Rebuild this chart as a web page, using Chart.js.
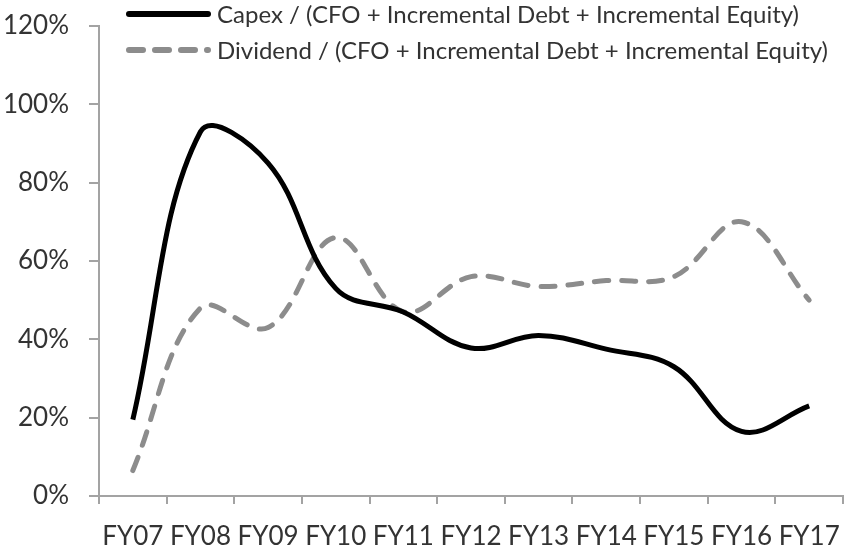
<!DOCTYPE html>
<html>
<head>
<meta charset="utf-8">
<script src="https://cdn.jsdelivr.net/npm/chart.js@4/dist/chart.umd.min.js"></script>
<style>
  body { margin: 0; background: #fff; }
  canvas { display: block; }
</style>
</head>
<body>
<canvas id="grafico" width="845" height="550"></canvas>
<script>
// dados (em %)
const anos = ['FY07', 'FY08', 'FY09', 'FY10', 'FY11', 'FY12', 'FY13', 'FY14', 'FY15', 'FY16', 'FY17'];
const capex = [19.5, 93, 85, 53, 47, 37.8, 41, 37.5, 33, 16.5, 23];
const dividendo = [6.5, 48, 43, 66, 47, 56, 53.5, 55, 56, 70, 50];
const nomeCapex = 'Capex / (CFO + Incremental Debt + Incremental Equity)';
const nomeDividendo = 'Dividend / (CFO + Incremental Debt + Incremental Equity)';

const FONTE = 'Lato';
const COR_TEXTO = '#333333';
const COR_EIXO = '#a3a3a3';

// legenda desenhada a mao, alinhada a esquerda como no Excel
const legendaExcel = {
    id: 'legendaExcel',
    afterDraw(chart) {
        const ctx = chart.ctx;
        const linhas = [14, 50];
        chart.data.datasets.forEach((ds, i) => {
            const y = linhas[i];
            ctx.save();
            ctx.strokeStyle = ds.borderColor;
            ctx.lineWidth = 6;
            ctx.lineCap = 'round';
            ctx.setLineDash(ds.borderDash ? [14, 12] : []);
            ctx.beginPath();
            ctx.moveTo(129, y);
            ctx.lineTo(208, y);
            ctx.stroke();
            ctx.setLineDash([]);
            ctx.fillStyle = COR_TEXTO;
            ctx.font = '24px ' + FONTE;
            ctx.textBaseline = 'middle';
            ctx.fillText(ds.label, 217, y + 1);
            ctx.restore();
        });
    }
};

new Chart(document.getElementById('grafico').getContext('2d'), {
    type: 'line',
    data: {
        labels: anos,
        datasets: [
            {
                label: nomeCapex,
                data: capex,
                borderColor: '#000000',
                borderWidth: 5,
                tension: 0.38,
                pointRadius: 0,
                fill: false
            },
            {
                label: nomeDividendo,
                data: dividendo,
                borderColor: '#8c8c8c',
                borderWidth: 5,
                borderDash: [14, 13],
                borderCapStyle: 'round',
                tension: 0.38,
                pointRadius: 0,
                fill: false
            }
        ]
    },
    options: {
        responsive: false,
        animation: false,
        layout: { padding: { top: 26, right: 2, left: 0, bottom: 0 } },
        plugins: {
            legend: { display: false },
            tooltip: { enabled: false }
        },
        scales: {
            x: {
                offset: true,
                grid: { display: true, offset: true, drawOnChartArea: false, drawTicks: true, tickLength: 8, color: COR_EIXO, lineWidth: 2 },
                border: { display: true, color: COR_EIXO, width: 2 },
                ticks: { color: COR_TEXTO, font: { family: FONTE, size: 26 }, padding: 17, maxRotation: 0, autoSkip: false },
                afterFit: (s) => { s.height = 54; s.paddingLeft = 0; s.paddingRight = 0; }
            },
            y: {
                min: 0,
                max: 120,
                ticks: { stepSize: 20, color: COR_TEXTO, font: { family: FONTE, size: 26 }, padding: 20, callback: v => v + '%' },
                grid: { display: true, drawOnChartArea: false, drawTicks: true, tickLength: 10, color: COR_EIXO, lineWidth: 2 },
                border: { display: true, color: COR_EIXO, width: 2 },
                afterFit: (s) => { s.width = 99; s.paddingTop = 0; s.paddingBottom = 0; }
            }
        }
    },
    plugins: [legendaExcel]
});
</script>
</body>
</html>
